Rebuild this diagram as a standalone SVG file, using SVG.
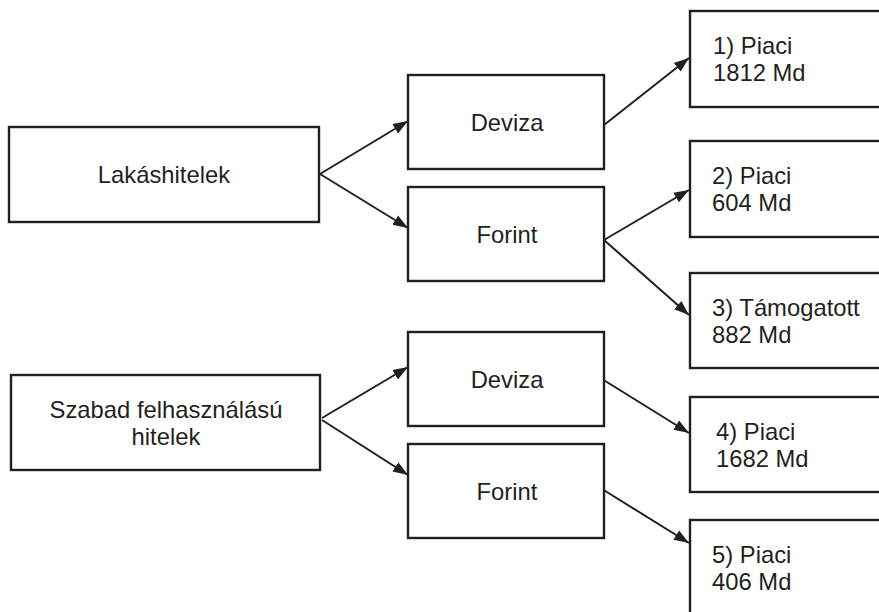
<svg xmlns="http://www.w3.org/2000/svg" width="879" height="612" viewBox="0 0 879 612">
<style>
.box{fill:#fff;stroke:#231f20;stroke-width:2.4}
.t{font-family:"Liberation Sans",Arial,Helvetica,sans-serif;font-size:23.8px;fill:#231f20}
.c{text-anchor:middle}
.ln{stroke:#231f20;stroke-width:2;fill:none;marker-end:url(#ah)}
</style>
<defs>
<marker id="ah" markerWidth="16" markerHeight="13" refX="15" refY="6.5" orient="auto" markerUnits="userSpaceOnUse">
<path d="M0,1 L15,6.5 L0,12 z" fill="#231f20"/>
</marker>
</defs>
<rect width="879" height="612" fill="#fff"/>
<g id="connectors">
<line class="ln" x1="320" y1="174" x2="408" y2="121"/>
<line class="ln" x1="320" y1="174" x2="408" y2="228"/>
<line class="ln" x1="604" y1="125" x2="689" y2="58"/>
<line class="ln" x1="604" y1="240" x2="689" y2="190"/>
<line class="ln" x1="604" y1="240" x2="689" y2="315"/>
<line class="ln" x1="322" y1="418" x2="408" y2="367"/>
<line class="ln" x1="322" y1="420" x2="408" y2="475"/>
<line class="ln" x1="602" y1="379" x2="689" y2="433"/>
<line class="ln" x1="602" y1="489" x2="689" y2="543"/>
</g>
<g id="lakashitelek">
<rect class="box" x="9" y="127" width="310" height="95"/>
<text class="t c" x="164" y="183">Lakáshitelek</text>
</g>
<g id="szabad">
<rect class="box" x="11" y="375" width="309" height="95"/>
<text class="t c" x="166" y="417.5">Szabad felhasználású</text>
<text class="t c" x="166" y="444.5">hitelek</text>
</g>
<g id="deviza1">
<rect class="box" x="408" y="75" width="196" height="94"/>
<text class="t c" x="507" y="130.5">Deviza</text>
</g>
<g id="forint1">
<rect class="box" x="408" y="187" width="196" height="94"/>
<text class="t c" x="507" y="242.5">Forint</text>
</g>
<g id="deviza2">
<rect class="box" x="408" y="332" width="196" height="94"/>
<text class="t c" x="507" y="387.5">Deviza</text>
</g>
<g id="forint2">
<rect class="box" x="408" y="444" width="196" height="94"/>
<text class="t c" x="507" y="499.5">Forint</text>
</g>
<g id="box1">
<rect class="box" x="690" y="11" width="220" height="96"/>
<text class="t" x="713" y="54">1) Piaci</text>
<text class="t" x="713" y="81">1812 Md</text>
</g>
<g id="box2">
<rect class="box" x="690" y="141" width="220" height="96"/>
<text class="t" x="712" y="184">2) Piaci</text>
<text class="t" x="712" y="211">604 Md</text>
</g>
<g id="box3">
<rect class="box" x="690" y="273" width="220" height="95"/>
<text class="t" x="712" y="315.5">3) Támogatott</text>
<text class="t" x="712" y="342.5">882 Md</text>
</g>
<g id="box4">
<rect class="box" x="690" y="397" width="220" height="95"/>
<text class="t" x="716" y="439.5">4) Piaci</text>
<text class="t" x="716" y="466.5">1682 Md</text>
</g>
<g id="box5">
<rect class="box" x="690" y="520" width="220" height="95"/>
<text class="t" x="712" y="562.5">5) Piaci</text>
<text class="t" x="712" y="589.5">406 Md</text>
</g>
</svg>
